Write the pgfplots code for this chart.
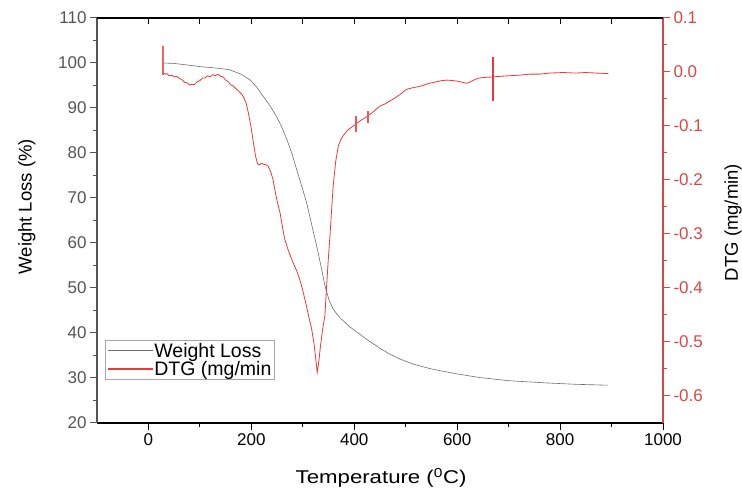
\documentclass[border=0pt]{standalone}
\usepackage{fontspec}
\setmainfont{Liberation Sans}
\usepackage{graphicx}
\usepackage{pgfplots}
\pgfplotsset{compat=1.18}

\definecolor{wlgray}{RGB}{110,110,110}
\definecolor{axgray}{RGB}{85,85,85}
\definecolor{dtgred}{RGB}{232,58,58}
\definecolor{axred}{RGB}{214,72,72}

\pgfplotsset{
  tgbase/.style={
    scale only axis, width=566bp, height=405bp,
    xmin=-100, xmax=1000,
    /pgf/number format/assume math mode=true,
    /pgf/number format/1000 sep={},
    tick label style={font=\fontsize{17bp}{20bp}\selectfont},
    label style={font=\fontsize{18.5bp}{22bp}\selectfont},
    axis line style={-, line width=1.2bp},
    every tick/.style={line width=1bp},
    major tick length=7bp, minor tick length=4bp,
  }
}

\begin{document}
\begin{tikzpicture}
% weight loss, left axis
\begin{axis}[tgbase,
  separate axis lines,
  axis x line*=bottom, axis y line*=left,
  tick align=outside,
  ymin=20, ymax=110,
  xtick={0,200,...,1000}, minor x tick num=1,
  ytick={20,30,...,110}, minor y tick num=1,
  x axis line style={draw=black},
  y axis line style={draw=axgray},
  ytick style={draw=axgray}, xtick style={draw=black},
  yticklabel style={color=axgray},
  xlabel={\scalebox{1.2}[1]{Temperature (\textsuperscript{0}C)}},
  ylabel={Weight Loss (\%)},
  xlabel style={at={(axis description cs:0.502,-0.136)}, anchor=center},
  ylabel style={at={(axis description cs:-0.124,0.534)}, anchor=center, rotate=0},
]
\coordinate (sw) at (rel axis cs:0,0);
\coordinate (ne) at (rel axis cs:1,1);
\addplot[color=wlgray, line width=0.6bp] coordinates {
(28,100.0) (50,99.9) (80,99.5) (100,99.2) (130,98.9) (158,98.5) (180,97.5)
(197,96.3) (210,94.7) (223,92.6) (236,90.5) (249,88.1) (259,85.8) (269,83.0)
(279,79.8) (288,76.3) (298,72.6) (307.5,68.9) (317,64.2) (327,59.3) (335,55.0)
(343,50.5) (351,47.3) (359,45.3) (372,43.4) (392,41.3) (410,39.8) (424,38.6)
(450,36.6) (469,35.3) (489,34.2) (514,33.1) (550,32.0) (600,30.9) (644,30.1)
(700,29.4) (774,28.9) (830,28.6) (893,28.4)
};
\end{axis}

% DTG, right axis
\begin{axis}[tgbase,
  axis x line=none, axis y line*=right,
  tick align=outside,
  ymin=-0.65, ymax=0.1,
  ytick={-0.6,-0.5,-0.4,-0.3,-0.2,-0.1,0,0.1}, minor y tick num=1,
  yticklabel style={color=axred, /pgf/number format/.cd, fixed, fixed zerofill, precision=1},
  y axis line style={draw=axred}, ytick style={draw=axred},
  ylabel={DTG (mg/min)},
  ylabel style={at={(axis description cs:1.124,0.495)}, anchor=center, rotate=0},
]
\addplot[color=dtgred, line width=0.8bp] coordinates {
(27,0.004) (30,-0.002) (33,-0.004) (36,-0.003) (40,-0.007) (45,-0.006) (50,-0.009)
(55,-0.008) (60,-0.012) (65,-0.014) (70,-0.019) (75,-0.020) (80,-0.024) (85,-0.023)
(90,-0.023) (95,-0.018) (100,-0.016) (105,-0.011) (110,-0.011) (115,-0.007)
(120,-0.009) (125,-0.005) (130,-0.007) (135,-0.004) (140,-0.008) (145,-0.009)
(150,-0.015) (155,-0.018) (160,-0.024) (165,-0.026) (170,-0.031) (175,-0.035)
(180,-0.040) (184,-0.045) (190,-0.058) (194,-0.075) (199,-0.100) (204,-0.131)
(208,-0.155) (212,-0.170) (216,-0.172) (220,-0.169) (224,-0.171) (229,-0.172)
(233,-0.175) (238,-0.186) (242,-0.199) (247,-0.225) (251,-0.243) (256,-0.262)
(261,-0.290) (265,-0.310) (272,-0.331) (281,-0.353) (288,-0.368) (294,-0.384)
(300,-0.405) (307,-0.433) (312,-0.455) (317,-0.475) (322,-0.505) (325,-0.530)
(328,-0.556) (331,-0.537) (334,-0.510) (338,-0.480) (343,-0.450) (346,-0.400)
(349.5,-0.347) (353,-0.300) (356,-0.255) (359,-0.211) (364,-0.165) (369,-0.137)
(374,-0.125) (379,-0.117) (388,-0.107) (398,-0.100) (405,-0.095) (412,-0.090)
(419,-0.086) (427,-0.081) (434,-0.076) (440,-0.071)
(450,-0.063) (460,-0.059) (469,-0.054) (476,-0.050) (482,-0.046) (490,-0.041)
(496,-0.036) (502,-0.032) (510,-0.030) (520,-0.028) (534,-0.025) (545,-0.021)
(560,-0.018) (570,-0.016) (580,-0.015) (592,-0.016) (600,-0.017) (610,-0.019)
(618,-0.021) (624,-0.019) (630,-0.016) (637,-0.013) (644,-0.011) (655,-0.010)
(670,-0.009) (685,-0.008) (700,-0.007) (720,-0.006) (741,-0.004) (760,-0.004)
(780,-0.002) (806,-0.001) (830,-0.002) (850,-0.001) (870,-0.002) (894,-0.003)
};
% instrument spikes
\addplot[color=dtgred!80, line width=1.8bp] coordinates {(27.5,0.048) (27.5,-0.006)};
\addplot[color=dtgred!85, line width=1.4bp] coordinates {(403,-0.081) (403,-0.112)};
\addplot[color=dtgred!85, line width=1.4bp] coordinates {(427,-0.072) (427,-0.095)};
\addplot[color=dtgred, line width=2bp] coordinates {(670,0.027) (670,-0.054)};
\end{axis}

% top frame line with inward ticks, and the legend
\begin{axis}[tgbase,
  axis x line*=top, axis y line=none,
  ymin=0, ymax=1,
  tick align=inside, major tick length=6bp,
  xtick={0,100,...,900}, xticklabels={},
  x axis line style={draw=black}, xtick style={draw=black},
  legend style={at={(axis description cs:0.0141,0.106)}, anchor=south west,
    draw=gray!70, line width=0.6bp, inner xsep=2bp, inner ysep=1bp,
    font=\fontsize{19.5bp}{22bp}\selectfont, row sep=-1.5bp,
    nodes={inner xsep=1bp}},
  legend cell align=left,
  legend image code/.code={\draw[#1] (0bp,0bp) -- (45bp,0bp);},
]
\addlegendimage{color=wlgray, line width=1.1bp}
\addlegendimage{color=dtgred, line width=1.1bp}
\legend{Weight Loss, DTG (mg/min}
\end{axis}

\pgfresetboundingbox
\path[use as bounding box] ([shift={(-97bp,-71bp)}]sw) rectangle ([shift={(79bp,18bp)}]ne);
\end{tikzpicture}
\end{document}
